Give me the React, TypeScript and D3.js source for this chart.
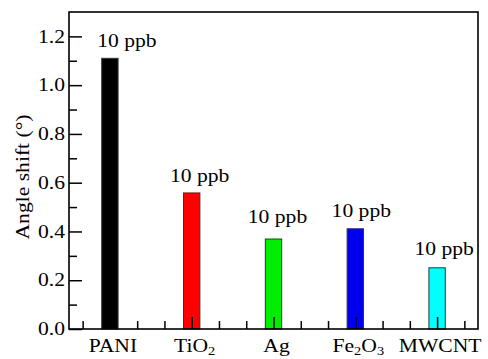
import React, { useEffect, useRef } from "react";
import * as d3 from "d3";

// categories use "_n" for a subscript digit
const categories = ["PANI", "TiO_2", "Ag", "Fe_2O_3", "MWCNT"];
const shifts = [1.11, 0.558, 0.369, 0.411, 0.251];
const barColors = ["#000000", "#ff0000", "#00ee00", "#0000ee", "#00ffff"];
const annotations = ["10 ppb", "10 ppb", "10 ppb", "10 ppb", "10 ppb"];
const yTicks = [0, 0.2, 0.4, 0.6, 0.8, 1.0, 1.2];
const yMinorTicks = [0.1, 0.3, 0.5, 0.7, 0.9, 1.1];

// label nudges (px) relative to bar centre / top, as placed in the original
const annotationNudge = [
  [17, -11],
  [8, -11],
  [4, -16],
  [6, -12],
  [7, -13],
];

const W = 488;
const H = 359;
const FONT = "Liberation Serif";
const STRETCH = 1.2; // text in the original is a little wide

const App = () => {
  const svgRef = useRef(null);

  useEffect(() => {
    const svg = d3.select(svgRef.current);
    svg.selectAll("*").remove();

    const left = 69, right = 478, top = 12, bottom = 329;

    const x = d3.scaleLinear().domain([0.5, 5.5]).range([left, right]);
    const y = d3.scaleLinear().domain([0, 1.3]).range([bottom, top]);
    const barW = x(1.2) - x(1);

    const addText = (g, tx, ty, str, opts = {}) => {
      const t = g
        .append("text")
        .attr(
          "transform",
          `translate(${tx},${ty})${opts.rotate ? " rotate(-90)" : ""} scale(${STRETCH},1)`
        )
        .attr("text-anchor", opts.anchor || "middle")
        .attr("font-family", FONT)
        .attr("font-size", 18)
        .attr("fill", "#000");
      if (opts.dy) t.attr("dy", opts.dy);
      const parts = str.split(/(_\d)/).filter((p) => p !== "");
      let lowered = false;
      parts.forEach((p) => {
        if (p.startsWith("_")) {
          t.append("tspan").attr("font-size", 12).attr("dy", 3).text(p.slice(1));
          lowered = true;
        } else {
          const s = t.append("tspan").text(p);
          if (lowered) s.attr("dy", -3);
          lowered = false;
        }
      });
      return t;
    };

    // bars
    svg
      .append("g")
      .selectAll("rect")
      .data(shifts)
      .join("rect")
      .attr("x", (d, i) => x(i + 1) - barW / 2)
      .attr("y", (d) => y(d))
      .attr("width", barW)
      .attr("height", (d) => y(0) - y(d))
      .attr("fill", (d, i) => barColors[i])
      .attr("stroke", "#333")
      .attr("stroke-width", 1);

    // axes ticks (inward)
    const yMajor = d3.axisLeft(y).tickValues(yTicks).tickSize(-13).tickFormat(() => "");
    const yMinor = d3.axisLeft(y).tickValues(yMinorTicks).tickSize(-8).tickFormat(() => "");
    const xMajor = d3.axisBottom(x).tickValues(d3.range(1, 6)).tickSize(-12).tickFormat(() => "");
    const xMinor = d3
      .axisBottom(x)
      .tickValues(d3.range(1, 6).flatMap((i) => [i - 1 / 3, i + 1 / 3]))
      .tickSize(-8)
      .tickFormat(() => "");

    [
      [yMajor, `translate(${left},0)`],
      [yMinor, `translate(${left},0)`],
      [xMajor, `translate(0,${bottom})`],
      [xMinor, `translate(0,${bottom})`],
    ].forEach(([ax, tr]) => {
      const g = svg.append("g").attr("transform", tr).call(ax);
      g.select(".domain").remove();
      g.selectAll("line").attr("stroke", "#000").attr("stroke-width", 1.5);
    });

    // frame
    svg
      .append("rect")
      .attr("x", left)
      .attr("y", top)
      .attr("width", right - left)
      .attr("height", bottom - top)
      .attr("fill", "none")
      .attr("stroke", "#000")
      .attr("stroke-width", 1.6);

    // y tick labels
    const labels = svg.append("g");
    yTicks.forEach((v) => {
      addText(labels, left - 4, y(v), d3.format(".1f")(v), { anchor: "end", dy: "0.34em" });
    });

    // x category labels
    categories.forEach((c, i) => {
      addText(labels, x(i + 1) + 3, 352, c);
    });

    // annotations above bars
    annotations.forEach((a, i) => {
      const [dx, dy] = annotationNudge[i];
      addText(labels, x(i + 1) + dx, y(shifts[i]) + dy, a);
    });

    // y axis title
    addText(labels, 29, 177, "Angle shift (°)", { rotate: true });
  }, []);

  return (
    <svg
      ref={svgRef}
      width={W}
      height={H}
      style={{ position: "absolute", left: 0, top: 0, background: "#fff" }}
    ></svg>
  );
};

export default App;
